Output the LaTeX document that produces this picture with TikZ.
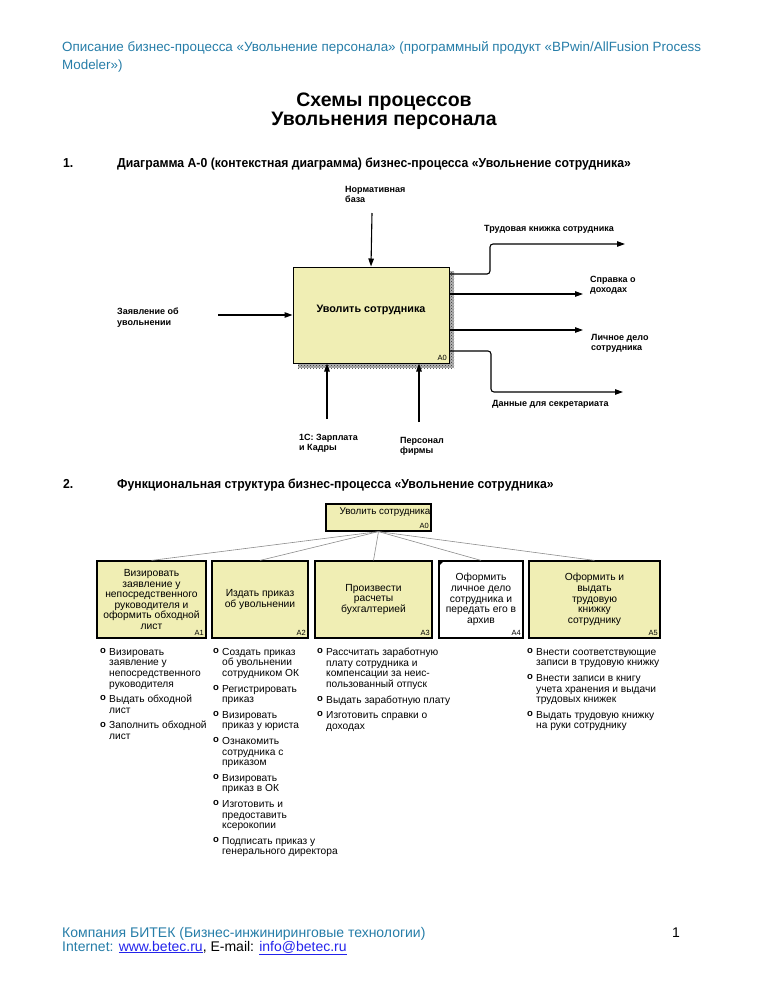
\documentclass[tikz,border=0pt]{standalone}
\usepackage{fontspec}
\setmainfont{Liberation Sans}
\newfontfamily\narrowfont[FakeStretch=0.94]{Liberation Sans}
\usetikzlibrary{arrows.meta, positioning, patterns}
\tikzset{>={Triangle[length=8pt,width=5.5pt]}}
\definecolor{headblue}{RGB}{38,125,168}
\definecolor{linkblue}{RGB}{35,35,235}
\definecolor{idef}{RGB}{240,238,180}
\newcommand\bul{\makebox[9pt][l]{\raisebox{1.8pt}{\fontsize{9.5}{9.5}\selectfont\bfseries o}}}
\newcommand\ind{\hspace*{9pt}}
\newcommand\hdfont{\fontsize{13.4}{15}\selectfont}
\newcommand\ftfont{\fontsize{14}{15}\selectfont}

\begin{document}
\begin{tikzpicture}[x=1pt, y=-1pt,
    txt/.style={anchor=base west, inner sep=0pt},
    lbl/.style={anchor=north west, inner sep=0pt, align=left, font=\fontsize{9}{10.3}\selectfont\bfseries},
    arr/.style={->, line width=1.1pt},
    func/.style={draw, line width=1.2pt, fill=idef, align=center, inner sep=1pt, minimum height=77pt, font=\fontsize{10.3}{10.6}\selectfont},
    num/.style={anchor=south east, inner sep=2.5pt, font=\fontsize{7.5}{8}\selectfont},
    tie/.style={draw=black!45, line width=0.6pt},
    lst/.style={anchor=north west, inner sep=0pt, align=left, font=\fontsize{10.2}{10.6}\selectfont}]

	\useasboundingbox (0,0) rectangle (768,994);

	% header and title
	\node[txt, text=headblue, font=\hdfont] (H1) at (62,51.5) {Описание бизнес-процесса «Увольнение персонала» (программный продукт «BPwin/AllFusion Process};
	\node[txt, text=headblue, font=\hdfont] (H2) at (62,69) {Modeler»)};
	\node[anchor=base, inner sep=0pt, font=\fontsize{19.5}{20}\selectfont\bfseries] (T1) at (384,106) {Схемы процессов};
	\node[anchor=base, inner sep=0pt, font=\fontsize{19.5}{20}\selectfont\bfseries] (T2) at (384,125) {Увольнения персонала};

	% 1. context diagram
	\node[txt, font=\narrowfont\fontsize{13}{15}\selectfont\bfseries] (S1) at (63,167) {1.};
	\node[txt, font=\narrowfont\fontsize{13}{15}\selectfont\bfseries] (S1t) at (117,167) {Диаграмма А-0 (контекстная диаграмма) бизнес-процесса «Увольнение сотрудника»};

	\fill[black!30] (449,271) rectangle (454,368);
	\fill[black!30] (298,363) rectangle (449,368);
	\fill[pattern=crosshatch dots, pattern color=black!80] (449,271) rectangle (454,368);
	\fill[pattern=crosshatch dots, pattern color=black!80] (298,363) rectangle (449,368);
	\node[draw, line width=1pt, fill=idef, minimum width=156pt, minimum height=96pt, text depth=12pt,
	      font=\fontsize{10.8}{12}\selectfont\bfseries] (A0) at (371,315) {Уволить сотрудника};
	\node[num] (A0n) at (A0.south east) {A0};

	\coordinate (ctl) at (372,213);
	\coordinate (inp) at (218,315);
	\coordinate (out1) at (625,244);
	\coordinate (out2) at (583,294);
	\coordinate (out3) at (583,330);
	\coordinate (out4) at (623,392);
	\coordinate (mec1) at (327,419);
	\coordinate (mec2) at (419,422);
	\draw[arr] (ctl) -- (A0.north);
	\draw[arr] (inp) -- (A0.west);
	\draw[arr, rounded corners=3pt] (A0.east |- 0,274) -| (490,244) -- (out1);
	\draw[arr] (A0.east |- out2) -- (out2);
	\draw[arr] (A0.east |- out3) -- (out3);
	\draw[arr, rounded corners=3pt] (A0.east |- 0,351) -| (491,392) -- (out4);
	\draw[arr] (mec1) -- (mec1 |- A0.south);
	\draw[arr] (mec2) -- (mec2 |- A0.south);

	\node[lbl] (Lctl) at (345,186) {Нормативная\\база};
	\node[lbl] (Linp) at (117,308) {Заявление об\\увольнении};
	\node[lbl] (Lo1) at (484,225) {Трудовая книжка сотрудника};
	\node[lbl] (Lo2) at (590,276) {Справка о\\доходах};
	\node[lbl] (Lo3) at (591,334) {Личное дело\\сотрудника};
	\node[lbl] (Lo4) at (492,400) {Данные для секретариата};
	\node[lbl] (Lm1) at (299,434) {1С: Зарплата\\и Кадры};
	\node[lbl] (Lm2) at (400,437) {Персонал\\фирмы};

	% 2. functional structure
	\node[txt, font=\narrowfont\fontsize{13}{15}\selectfont\bfseries] (S2) at (63,488) {2.};
	\node[txt, font=\narrowfont\fontsize{13}{15}\selectfont\bfseries] (S2t) at (117,488) {Функциональная структура бизнес-процесса «Увольнение сотрудника»};

	\node[func, minimum width=105pt, minimum height=27pt] (F0) at (378.5,517.5) {};
	\node[anchor=north east, inner sep=1pt, font=\fontsize{9.8}{10.6}\selectfont] (F0t) at ([yshift=-3.5pt]F0.north east) {Уволить сотрудника};
	\node[num] (N0) at (F0.south east) {A0};

	\node[func, minimum width=109pt] (F1) at (151.5,599.5) {Визировать\\заявление у\\непосредственного\\руководителя и\\оформить обходной\\лист};
	\node[func, minimum width=96pt] (F2) at (260,599.5) {Издать приказ\\об увольнении};
	\node[func, minimum width=117pt] (F3) at (373.5,599.5) {Произвести\\расчеты\\бухгалтерией};
	\node[func, minimum width=84pt, fill=white] (F4) at (481,599.5) {Оформить\\личное дело\\сотрудника и\\передать его в\\архив};
	\node[func, minimum width=131pt] (F5) at (594.5,599.5) {Оформить и\\выдать\\трудовую\\книжку\\сотруднику};
	\fill (F4.north west) -- ++(6,0) -- ++(-6,6) -- cycle;

	\foreach \k in {1,...,5} {
		\draw[tie] (F0.south) -- (F\k.north);
		\node[num] (N\k) at (F\k.south east) {A\k};
	}

	\node[lst] (L1) at (100,648) {\bul Визировать\\\ind заявление у\\\ind непосредственного\\\ind руководителя\\[5pt]\bul Выдать обходной\\\ind лист\\[5pt]\bul Заполнить обходной\\\ind лист};
	\node[lst] (L2) at (213,648) {\bul Создать приказ\\\ind об увольнении\\\ind сотрудником ОК\\[5pt]\bul Регистрировать\\\ind приказ\\[5pt]\bul Визировать\\\ind приказ у юриста\\[5pt]\bul Ознакомить\\\ind сотрудника с\\\ind приказом\\[5pt]\bul Визировать\\\ind приказ в ОК\\[5pt]\bul Изготовить и\\\ind предоставить\\\ind ксерокопии\\[5pt]\bul Подписать приказ у\\\ind генерального директора};
	\node[lst] (L3) at (317,648) {\bul Рассчитать заработную\\\ind плату сотрудника и\\\ind компенсации за неис-\\\ind пользованный отпуск\\[5pt]\bul Выдать заработную плату\\[5pt]\bul Изготовить справки о\\\ind доходах};
	\node[lst] (L5) at (527,648) {\bul Внести соответствующие\\\ind записи в трудовую книжку\\[5pt]\bul Внести записи в книгу\\\ind учета хранения и выдачи\\\ind трудовых книжек\\[5pt]\bul Выдать трудовую книжку\\\ind на руки сотруднику};

	% footer
	\node[txt, text=headblue, font=\ftfont] (Ft1) at (62,937) {Компания БИТЕК (Бизнес-инжиниринговые технологии)};
	\node[txt, font=\ftfont] (Ft2) at (62,951) {\textcolor{headblue}{Internet: }\textcolor{linkblue}{\underline{www.betec.ru}}, E-mail: \textcolor{linkblue}{\underline{info@betec.ru}}};
	\node[txt, font=\ftfont] (Pg) at (672,937) {1};

\end{tikzpicture}
\end{document}
